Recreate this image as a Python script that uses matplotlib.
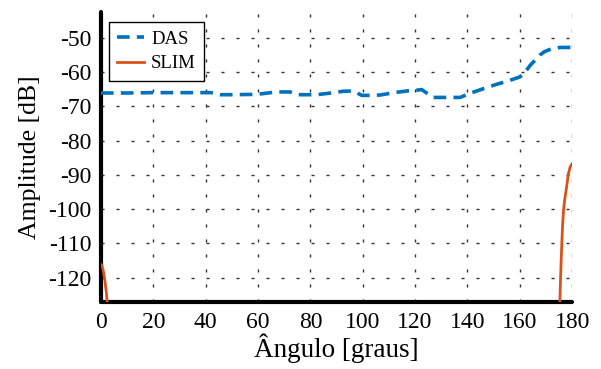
import matplotlib
matplotlib.use("Agg")
import matplotlib.pyplot as plt
import numpy as np

# DAS beam pattern (dB)
das_angle = [0, 10, 20, 30, 42, 45.5, 50, 59.5, 67, 72.2, 75.3, 82.4, 88, 92.5, 96.4,
             99.6, 103, 106.6, 112, 117, 120.6, 122.5, 126.9, 130, 137.2, 141, 144,
             147.4, 151, 155, 160.1, 162, 164, 166, 167.7, 169.5, 171.5, 173.5,
             175.4, 178, 180]
das_db = [-66.1, -66.1, -66.0, -66.0, -66.0, -66.6, -66.6, -66.5, -65.8, -65.8, -66.6,
          -66.6, -66.1, -65.6, -65.5, -66.8, -66.8, -66.7, -66.0, -65.5, -65.3, -65.1,
          -67.4, -67.4, -67.4, -66.2, -65.4, -64.5, -63.6, -62.7, -61.4, -60.0, -58.0,
          -56.4, -55.0, -54.0, -53.4, -53.0, -52.8, -52.8, -52.8]

# SLIM beam pattern (dB), two visible pieces
slim_angle_a = [0, 0.5, 1.0, 1.5, 2.0, 2.5]
slim_db_a = [-116.2, -116.8, -118.5, -121.0, -124.0, -128.0]
slim_angle_b = [175.2, 175.5, 175.8, 176.0, 176.3, 176.7, 177.2, 177.7, 178.1,
                178.6, 179.2, 179.6, 180]
slim_db_b = [-130.0, -122.0, -115.0, -111.0, -105.5, -100.4, -97.0, -94.5, -92.2,
             -89.6, -87.8, -87.2, -86.8]

x_ticks = list(range(0, 181, 20))
y_ticks = list(range(-120, -49, 10))

plt.rcParams['font.family'] = ['Liberation Serif', 'DejaVu Serif']

fig = plt.figure(figsize=(6.01, 3.69), dpi=100)
ax = fig.add_axes([0.168, 0.182, 0.784, 0.785])

ax.plot(das_angle, das_db, color='#0072BD', lw=2.6, ls=(0, (3.5, 2)), label='DAS',
        zorder=3)
ax.plot(slim_angle_a, slim_db_a, color='#D95319', lw=2.0, label='SLIM', zorder=3)
ax.plot(slim_angle_b, slim_db_b, color='#D95319', lw=2.0, zorder=3)

ax.set_xlim(0, 180)
ax.set_ylim(-127.1, -42.5)
ax.set_xticks(x_ticks)
ax.set_yticks(y_ticks)
ax.set_xticklabels([str(v) for v in x_ticks])
ax.set_yticklabels([str(v) for v in y_ticks])

for s in ['top', 'right']:
    ax.spines[s].set_visible(False)
for s in ['left', 'bottom']:
    ax.spines[s].set_linewidth(3)
    ax.spines[s].set_capstyle('round')

ax.grid(True, color='#333333', ls=(0, (2.2, 8.6)), lw=1.0)
ax.tick_params(axis='both', direction='in', length=0, labelsize=17, pad=7)

ax.set_xlabel('Ângulo [graus]', fontsize=19.5, labelpad=1)
ax.set_ylabel('Amplitude [dB]', fontsize=18.5, labelpad=5)

leg = ax.legend(loc='upper left', fontsize=13.5, frameon=True, fancybox=False,
                edgecolor='black', framealpha=1, borderpad=0.45, handlelength=1.4,
                handletextpad=0.4, labelspacing=0.4, borderaxespad=0,
                bbox_to_anchor=(0.017, 0.966))
leg.get_frame().set_linewidth(1.0)

fig.savefig('out.png', dpi=100)
